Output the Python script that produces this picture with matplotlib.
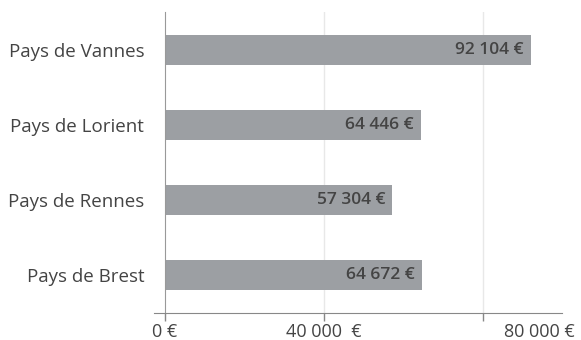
import matplotlib
matplotlib.use("Agg")
import matplotlib.pyplot as plt
import matplotlib.transforms as mtransforms

plt.rcParams['font.family'] = ['Open Sans', 'DejaVu Sans']

# Valeurs par pays (du bas vers le haut)
pays = ["Pays de Brest", "Pays de Rennes", "Pays de Lorient", "Pays de Vannes"]
valeurs = [64672, 57304, 64446, 92104]
ticks = [0, 40000, 80000]
tick_labels = ["0 €", "40 000  €", "80 000 €"]

bar_color = "#9c9fa3"
text_color = "#444444"


def fmt(v):
    return f"{v:,}".replace(",", " ") + " €"


fig = plt.figure(figsize=(5.81, 3.40), dpi=100)
ax = fig.add_axes([154 / 581, 1 - 313 / 340, (562 - 154) / 581, (313 - 12) / 340])

# axe vertical placé sur x = 0 (avant de régler les graduations)
for s in ["top", "right"]:
    ax.spines[s].set_visible(False)
ax.spines["left"].set_position(("data", 0))
ax.spines["left"].set_color("#999999")
ax.spines["bottom"].set_color("#888888")

ypos = list(range(len(pays)))
ax.barh(ypos, valeurs, height=0.4, color=bar_color, zorder=2)

for y, v in zip(ypos, valeurs):
    ax.annotate(fmt(v), xy=(v, y), xytext=(-5, 0), textcoords="offset points",
                ha="right", va="center", fontsize=12.5, color=text_color,
                fontweight="semibold", zorder=3)

ax.set_xlim(-2770, 100000)
ax.set_ylim(-0.5, 3.5)

ax.set_yticks(ypos)
ax.set_yticklabels(pays)
ax.tick_params(axis="y", length=0, pad=15, labelsize=13.5, labelcolor=text_color)

ax.set_xticks(ticks)
ax.set_xticklabels(tick_labels)
ax.tick_params(axis="x", length=6, width=1, color="#888888", pad=1,
               labelsize=13, labelcolor=text_color)

# dernier libellé décalé vers la droite
last = ax.get_xticklabels()[-1]
last.set_transform(last.get_transform() +
                   mtransforms.ScaledTranslation(0.57, 0, fig.dpi_scale_trans))

for x in ticks[1:]:
    ax.axvline(x, color="#e8e8e8", lw=1, zorder=1)

fig.savefig("out.png", dpi=100)
